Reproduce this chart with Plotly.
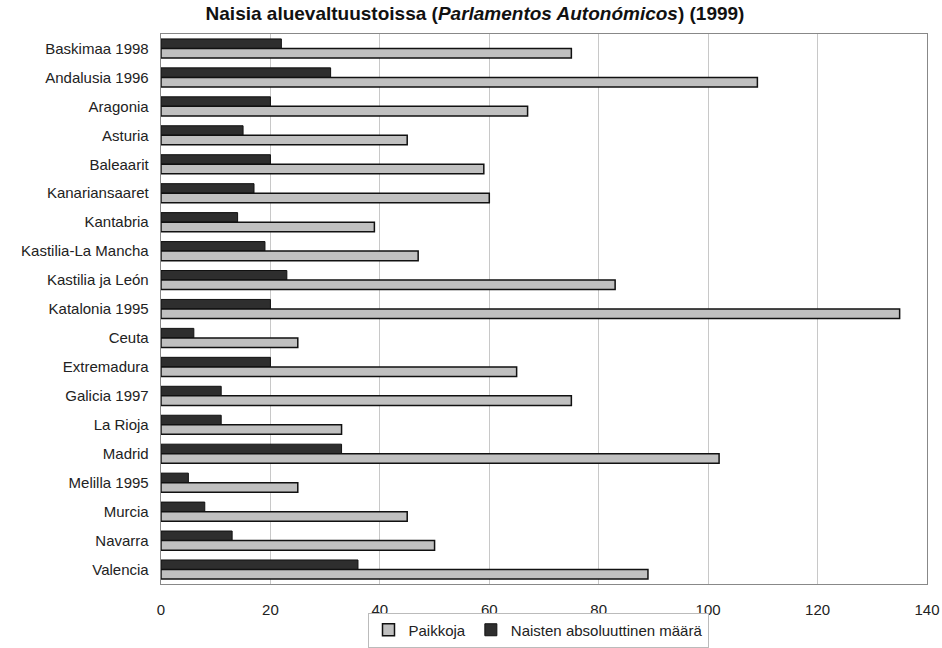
import plotly.graph_objects as go

categories = ["Baskimaa 1998", "Andalusia 1996", "Aragonia", "Asturia", "Baleaarit",
              "Kanariansaaret", "Kantabria", "Kastilia-La Mancha", "Kastilia ja León",
              "Katalonia 1995", "Ceuta", "Extremadura", "Galicia 1997", "La Rioja",
              "Madrid", "Melilla 1995", "Murcia", "Navarra", "Valencia"]
paikkoja = [75, 109, 67, 45, 59, 60, 39, 47, 83, 135, 25, 65, 75, 33, 102, 25, 45, 50, 89]
naiset = [22, 31, 20, 15, 20, 17, 14, 19, 23, 20, 6, 20, 11, 11, 33, 5, 8, 13, 36]

W, H = 942, 648

fig = go.Figure()
fig.add_trace(go.Bar(
    y=categories, x=naiset, orientation="h", name="Naisten absoluuttinen määrä",
    marker=dict(color="#2e2e2e", line=dict(color="#111111", width=1)), legendrank=2))
fig.add_trace(go.Bar(
    y=categories, x=paikkoja, orientation="h", name="Paikkoja",
    marker=dict(color="#c0c0c0", line=dict(color="#111111", width=1.5)), legendrank=1))

fig.update_layout(
    width=W, height=H,
    margin=dict(l=161, r=15, t=34, b=64),
    paper_bgcolor="white", plot_bgcolor="white",
    barmode="group", bargap=0.34, bargroupgap=0,
    font=dict(family="Liberation Sans, Arial, sans-serif", size=15, color="#222222"),
    title=dict(text="<b>Naisia aluevaltuustoissa (<i>Parlamentos Autonómicos</i>) (1999)</b>",
               x=475 / W, xanchor="center", y=1 - 13 / H, yanchor="middle",
               font=dict(size=19, color="#111111")),
    xaxis=dict(range=[0, 140], dtick=20, showgrid=True, gridcolor="#c8c8c8", gridwidth=1,
               showline=True, linecolor="#888888", mirror=True, ticks="",
               zeroline=False, tickfont=dict(size=15), automargin=False,
               ticklabelstandoff=12),
    yaxis=dict(autorange="reversed", showline=True, linecolor="#888888", mirror=True,
               ticks="", tickfont=dict(size=15), ticksuffix="  ", automargin=False),
    legend=dict(orientation="h", xref="container", yref="container",
                x=538 / W, xanchor="center", y=1 - 630 / H, yanchor="middle",
                bordercolor="#bbbbbb", borderwidth=1, font=dict(size=15),
                itemwidth=30, tracegroupgap=0),
    showlegend=True,
)

fig.write_html("out.html", config={"displayModeBar": False},
               post_script="document.body.style.margin='0';")
